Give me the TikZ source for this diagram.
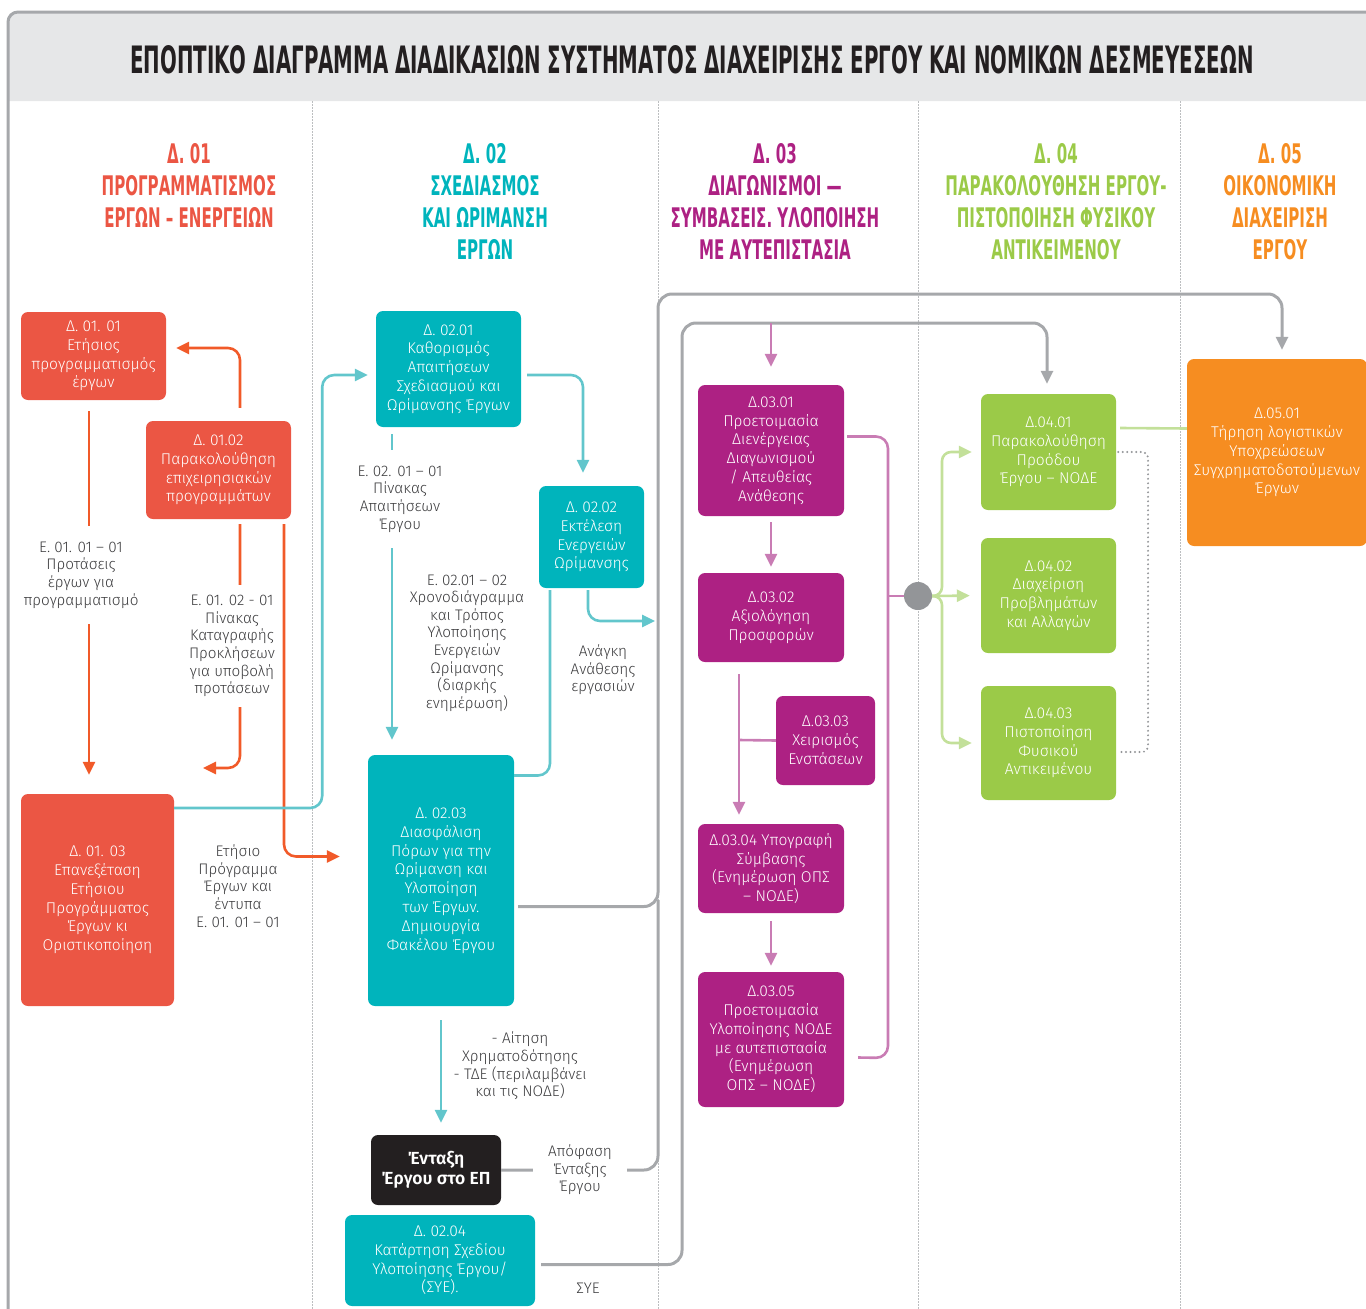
\documentclass[tikz,border=0pt]{standalone}
\usepackage{fontspec}
\setmainfont{Fira Sans}[UprightFont={* Light},BoldFont={* SemiBold}]
\newfontfamily\headfont{DejaVu Sans Condensed Bold}[FakeStretch=0.62]
\usetikzlibrary{arrows.meta}
\definecolor{cred}{HTML}{EB5644}
\definecolor{credln}{HTML}{F15A29}
\definecolor{cteal}{HTML}{00B4BC}
\definecolor{ctealln}{HTML}{62C6CC}
\definecolor{cpurp}{HTML}{AD2183}
\definecolor{cpurpln}{HTML}{C97CB4}
\definecolor{cgreen}{HTML}{9BCA48}
\definecolor{cgreenln}{HTML}{C3E09A}
\definecolor{corange}{HTML}{F68D21}
\definecolor{cgrayln}{HTML}{A6A8AB}
\definecolor{chub}{HTML}{939598}
\definecolor{cband}{HTML}{E6E7E8}
\definecolor{csep}{HTML}{BCBEC0}
\definecolor{cblack}{HTML}{231F20}
\definecolor{ctext}{HTML}{3C3C3E}
\begin{document}
\begin{tikzpicture}[x=1pt,y=-1pt,>={Triangle[length=13pt,width=12pt]},
  box/.style={rounded corners=7pt,text=white,align=center,inner sep=2pt,
    font=\fontsize{15.6}{18.8}\selectfont},
  rbox/.style={box,fill=cred},
  tbox/.style={box,fill=cteal},
  pbox/.style={box,fill=cpurp},
  gbox/.style={box,fill=cgreen},
  obox/.style={box,fill=corange},
  kbox/.style={box,fill=cblack,font=\fontsize{17.5}{20}\selectfont\bfseries},
  lbl/.style={align=center,text=ctext,inner sep=2pt,
    font=\fontsize{15.3}{17.6}\selectfont},
  hd/.style={align=center,anchor=north,inner sep=0pt,
    font=\headfont\fontsize{27}{32}\selectfont},
  rln/.style={draw=credln,line width=2.6pt,rounded corners=12pt},
  tln/.style={draw=ctealln,line width=2.6pt,rounded corners=12pt},
  pln/.style={draw=cpurpln,line width=2.6pt,rounded corners=12pt},
  gln/.style={draw=cgreenln,line width=2.6pt,rounded corners=9pt},
  kln/.style={draw=cgrayln,line width=3pt,rounded corners=14pt}]
\useasboundingbox (0,0) rectangle (1366,1309);
\clip (0,0) rectangle (1366,1309);
% frame and title band
\fill[cband] (8,101) [rounded corners=10pt] -- (8,12) -- (1380,12) [sharp corners] -- (1380,101) -- cycle;
\draw[cgrayln,line width=3pt,rounded corners=10pt] (8,1320) -- (8,12) -- (1380,12);
\foreach \x in {312,658,918,1180}
  \draw[csep,line width=1pt,dash pattern=on 1.5pt off 1.5pt] (\x,101) -- (\x,1309);
\node[text=cblack,inner sep=0pt] (title) at (692,60)
  {\resizebox{1123pt}{28pt}{\headfont ΕΠΟΠΤΙΚΟ ΔΙΑΓΡΑΜΜΑ ΔΙΑΔΙΚΑΣΙΩΝ ΣΥΣΤΗΜΑΤΟΣ ΔΙΑΧΕΙΡΙΣΗΣ ΕΡΓΟΥ ΚΑΙ ΝΟΜΙΚΩΝ ΔΕΣΜΕΥΕΣΕΩΝ}};
% column heads
\node[hd,text=cred] (h01) at (189,143) {Δ. 01\\ΠΡΟΓΡΑΜΜΑΤΙΣΜΟΣ\\ΕΡΓΩΝ – ΕΝΕΡΓΕΙΩΝ};
\node[hd,text=cteal] (h02) at (485,143) {Δ. 02\\ΣΧΕΔΙΑΣΜΟΣ\\ΚΑΙ ΩΡΙΜΑΝΣΗ\\ΕΡΓΩΝ};
\node[hd,text=cpurp] (h03) at (775,143) {Δ. 03\\ΔΙΑΓΩΝΙΣΜΟΙ —\\ΣΥΜΒΑΣΕΙΣ. ΥΛΟΠΟΙΗΣΗ\\ΜΕ ΑΥΤΕΠΙΣΤΑΣΙΑ};
\node[hd,text=cgreen] (h04) at (1056,143) {Δ. 04\\ΠΑΡΑΚΟΛΟΥΘΗΣΗ ΕΡΓΟΥ-\\ΠΙΣΤΟΠΟΙΗΣΗ ΦΥΣΙΚΟΥ\\ΑΝΤΙΚΕΙΜΕΝΟΥ};
\node[hd,text=corange] (h05) at (1280,143) {Δ. 05\\ΟΙΚΟΝΟΜΙΚΗ\\ΔΙΑΧΕΙΡΙΣΗ\\ΕΡΓΟΥ};
% boxes
\node[rbox,minimum width=145pt,minimum height=88pt] (d0101) at (93.5,356) {Δ. 01. 01\\Ετήσιος\\προγραμματισμός\\έργων};
\node[rbox,minimum width=145pt,minimum height=98pt] (d0102) at (218.5,470) {Δ. 01.02\\Παρακολούθηση\\επιχειρησιακών\\προγραμμάτων};
\node[rbox,minimum width=153pt,minimum height=212pt] (d0103) at (97.5,900) {Δ. 01. 03\\Επανεξέταση\\Ετήσιου\\Προγράμματος\\Έργων κι\\Οριστικοποίηση};
\node[tbox,minimum width=145pt,minimum height=116pt] (d0201) at (448.5,369) {Δ. 02.01\\Καθορισμός\\Απαιτήσεων\\Σχεδιασμού και\\Ωρίμανσης Έργων};
\node[tbox,minimum width=105pt,minimum height=102pt] (d0202) at (591.5,537) {Δ. 02.02\\Εκτέλεση\\Ενεργειών\\Ωρίμανσης};
\node[tbox,minimum width=146pt,minimum height=251pt] (d0203) at (441,880.5) {Δ. 02.03\\Διασφάλιση\\Πόρων για την\\Ωρίμανση και\\Υλοποίηση\\των Έργων.\\Δημιουργία\\Φακέλου Έργου};
\node[kbox,minimum width=130pt,minimum height=70pt] (ent) at (436,1170) {Ένταξη\\Έργου στο ΕΠ};
\node[tbox,minimum width=190pt,minimum height=91pt] (d0204) at (440,1260.5) {Δ. 02.04\\Κατάρτηση Σχεδίου\\Υλοποίησης Έργου/\\(ΣΥΕ).};
\node[pbox,minimum width=146pt,minimum height=131pt] (d0301) at (771,450.5) {Δ.03.01\\Προετοιμασία\\Διενέργειας\\Διαγωνισμού\\/ Απευθείας\\Ανάθεσης};
\node[pbox,minimum width=146pt,minimum height=89pt] (d0302) at (771,617.5) {Δ.03.02\\Αξιολόγηση\\Προσφορών};
\node[pbox,minimum width=99pt,minimum height=89pt] (d0303) at (825.5,740.5) {Δ.03.03\\Χειρισμός\\Ενστάσεων};
\node[pbox,minimum width=146pt,minimum height=89pt] (d0304) at (771,868.5) {Δ.03.04 Υπογραφή\\Σύμβασης\\(Ενημέρωση ΟΠΣ\\– ΝΟΔΕ)};
\node[pbox,minimum width=146pt,minimum height=135pt] (d0305) at (771,1039.5) {Δ.03.05\\Προετοιμασία\\Υλοποίησης ΝΟΔΕ\\με αυτεπιστασία\\(Ενημέρωση\\ΟΠΣ – ΝΟΔΕ)};
\node[gbox,minimum width=135pt,minimum height=116pt] (d0401) at (1048.5,452) {Δ.04.01\\Παρακολούθηση\\Προόδου\\Έργου – ΝΟΔΕ};
\node[gbox,minimum width=135pt,minimum height=115pt] (d0402) at (1048.5,595.5) {Δ.04.02\\Διαχείριση\\Προβλημάτων\\και Αλλαγών};
\node[gbox,minimum width=135pt,minimum height=114pt] (d0403) at (1048.5,743) {Δ.04.03\\Πιστοποίηση\\Φυσικού\\Αντικειμένου};
\node[obox,minimum width=180pt,minimum height=187pt] (d0501) at (1277,452.5) {Δ.05.01\\Τήρηση λογιστικών\\Υποχρεώσεων\\Συγχρηματοδοτούμενων\\Έργων};
\node[circle,fill=chub,minimum size=28pt,inner sep=0pt] (hub) at (918,596) {};
\coordinate (e0102) at (203,768);
\coordinate (e0202) at (655,621);
\coordinate (j03) at (771,323);
\coordinate (b03) at (739,740);
% Δ.01 connectors
\draw[rln,->,shorten <=13pt,shorten >=10pt] ([xshift=21.5pt]d0102.north) |- ([yshift=8pt]d0101.east);
\draw[rln,->,shorten <=11pt,shorten >=19pt] ([xshift=-4.5pt]d0101.south) -- ([xshift=-8.5pt]d0103.north);
\draw[rln,->,shorten <=5pt] ([xshift=21.5pt]d0102.south) |- (e0102);
\draw[rln,->,shorten <=5pt,shorten >=28pt] ([xshift=65.5pt]d0102.south) |- ([yshift=24pt]d0203.west);
% Δ.02 connectors
\draw[tln,->,shorten >=8pt] ([yshift=92pt]d0103.east) -- ++(148,0) |- ([yshift=-6pt]d0201.west);
\draw[tln,->,shorten <=6pt,shorten >=13pt] ([yshift=-6pt]d0201.east) -| ([xshift=-8.5pt]d0202.north);
\draw[tln,->,shorten <=7pt,shorten >=15pt] ([xshift=-56.5pt]d0201.south) -- ([xshift=-49pt]d0203.north);
\draw[tln,->,shorten <=2pt] ([xshift=-3.5pt]d0202.south) |- (e0202);
\draw[tln,shorten <=2pt] ([xshift=-41.5pt]d0202.south) |- ([yshift=105pt]d0203.east);
\draw[tln,->,shorten <=14pt,shorten >=12pt] (d0203.south) -- ([xshift=5pt]ent.north);
% grey connectors
\draw[kln,->,shorten <=4pt,shorten >=9pt] ([yshift=-26pt]d0203.east) -| (658,294) -| ([xshift=5pt]d0501.north);
\draw[kln] (ent.east) -| (658,900);
\draw[kln,->,shorten <=6pt,shorten >=10pt] ([yshift=-4pt]d0204.east) -| (682,323) -| ([xshift=-1.5pt]d0401.north);
% Δ.03 connectors
\draw[pln,->,shorten >=18pt] (j03) -- (d0301.north);
\draw[pln,->,shorten <=6pt,shorten >=6pt] (d0301.south) -- (d0302.north);
\draw[pln,->,shorten <=12pt,shorten >=9pt] ([xshift=-32pt]d0302.south) -- ([xshift=-32pt]d0304.north);
\draw[pln] (b03) -- (d0303.west);
\draw[pln,->,shorten <=8pt,shorten >=6pt] (d0304.south) -- (d0305.north);
\draw[pln] ([shift={(3pt,14pt)}]d0301.east) -| (888,1058) -- ([shift={(14pt,-18pt)}]d0305.east);
\draw[pln] (888,596) -- (hub.west);
% Δ.04 connectors
\draw[gln,->,shorten >=9pt] (hub.east) -- (942,596) |- (d0401.west);
\draw[gln,->,shorten >=11pt] (hub.east) -- (d0402.west);
\draw[gln,->,shorten >=9pt] (hub.east) -- (942,596) |- (d0403.west);
\draw[gln] ([shift={(4pt,24pt)}]d0401.east) -- ([yshift=24pt]d0501.west);
\draw[chub,line width=2.2pt,dash pattern=on 0pt off 4.5pt,line cap=round,rounded corners=6pt]
  ([xshift=2pt]d0401.east) -| (1148,600) |- ([shift={(2pt,-9pt)}]d0403.east);
% labels
\node[lbl,fill=white,inner ysep=16pt] (l0101) at (81,575) {Ε. 01. 01 – 01\\Προτάσεις\\έργων για\\προγραμματισμό};
\node[lbl,fill=white,inner ysep=10pt] (l0102) at (232,646) {Ε. 01. 02 - 01\\Πίνακας\\Καταγραφής\\Προκλήσεων\\για υποβολή\\προτάσεων};
\node[lbl] (l0103) at (238,886) {Ετήσιο\\Πρόγραμμα\\Έργων και\\έντυπα\\Ε. 01. 01 – 01};
\node[lbl,fill=white,inner ysep=16pt] (l0201) at (400,499) {Ε. 02. 01 – 01\\Πίνακας\\Απαιτήσεων\\Έργου};
\node[lbl] (l0202) at (467,643) {Ε. 02.01 – 02\\Χρονοδιάγραμμα\\και Τρόπος\\Υλοποίησης\\Ενεργειών\\Ωρίμανσης\\(διαρκής\\ενημέρωση)};
\node[lbl] (l0203) at (603,670) {Ανάγκη\\Ανάθεσης\\εργασιών};
\node[lbl] (l0204) at (520,1066) {- Αίτηση\\Χρηματοδότησης\\- ΤΔΕ (περιλαμβάνει\\και τις ΝΟΔΕ)};
\node[lbl,fill=white,inner xsep=15pt] (l0205) at (580,1170) {Απόφαση\\Ένταξης\\Έργου};
\node[lbl] (l0206) at (588,1288) {ΣΥΕ};
\end{tikzpicture}
\end{document}
